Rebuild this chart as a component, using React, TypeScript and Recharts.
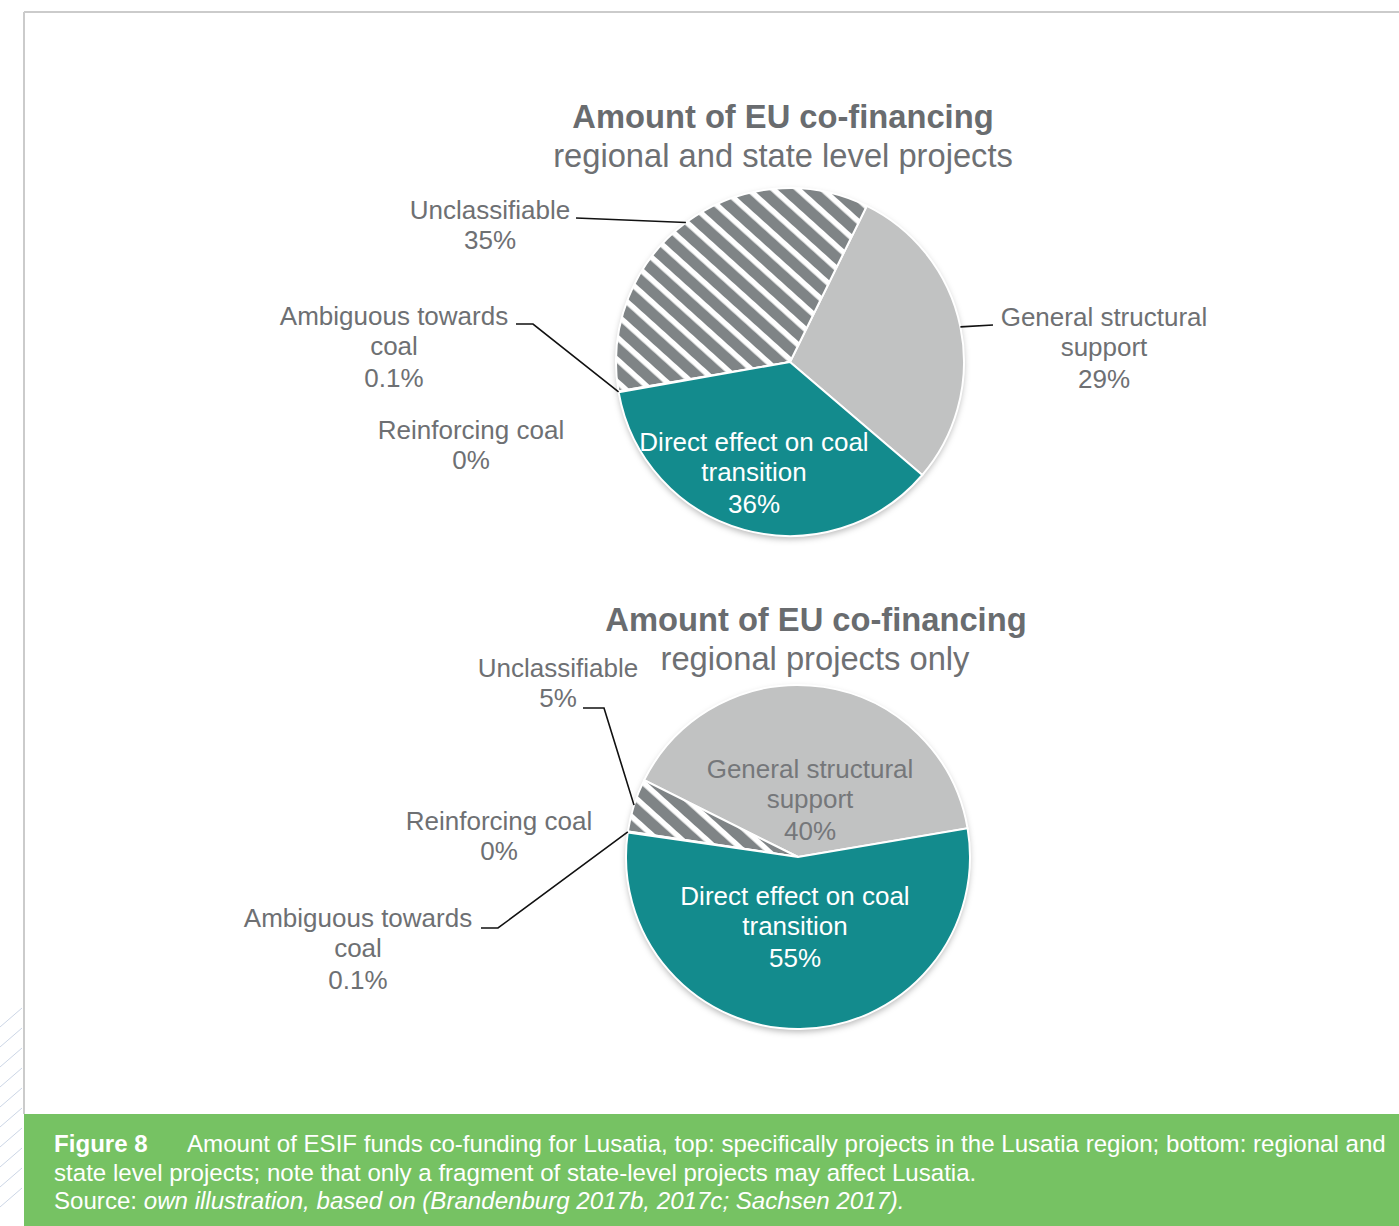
import { PieChart, Pie, Cell } from "recharts";

const categories = [
  "General structural support",
  "Unclassifiable",
  "Ambiguous towards coal",
  "Reinforcing coal",
  "Direct effect on coal transition",
];
const labelLines = [
  ["General structural", "support"],
  ["Unclassifiable"],
  ["Ambiguous towards", "coal"],
  ["Reinforcing coal"],
  ["Direct effect on coal", "transition"],
];

// top: regional and state level projects
const topValues = [29, 35, 0.1, 0, 36];
const topPercents = ["29%", "35%", "0.1%", "0%", "36%"];

// bottom: regional projects only
const bottomValues = [40, 5, 0.1, 0, 55];
const bottomPercents = ["40%", "5%", "0.1%", "0%", "55%"];

const FONT = "'Liberation Sans', Arial, Helvetica, sans-serif";
const GREY_TEXT = "#6e7073";
const TITLE = "#696c6f";
const TEAL = "#138b8d";
const LIGHT = "#c1c2c2";

const sliceFills = [LIGHT, "url(#hatch)", "#55595b", "#333333", TEAL];

type Spot = { dx: number; dy: number; color: string; line?: [number, number][] };

// label placement relative to the pie centre
const topSpots: Spot[] = [
  { dx: 314, dy: -45, color: GREY_TEXT, line: [[203, -37]] },
  { dx: -300, dy: -152, color: GREY_TEXT, line: [[-214, -144]] },
  { dx: -396, dy: -46, color: GREY_TEXT, line: [[-257, -38], [-274, -38]] },
  { dx: -319, dy: 68, color: GREY_TEXT },
  { dx: -36, dy: 80, color: "#ffffff" },
];
const bottomSpots: Spot[] = [
  { dx: 12, dy: -88, color: "#75777a" },
  { dx: -240, dy: -189, color: GREY_TEXT, line: [[-194, -149], [-215, -149]] },
  { dx: -440, dy: 61, color: GREY_TEXT, line: [[-300, 71], [-317, 71]] },
  { dx: -299, dy: -36, color: GREY_TEXT },
  { dx: -3, dy: 39, color: "#ffffff" },
];

const toData = (values: number[], pcts: string[]) =>
  categories.map((name, i) => ({ name, value: values[i], pct: pcts[i] }));

const topData = toData(topValues, topPercents);
const bottomData = toData(bottomValues, bottomPercents);

const makeLabel = (spots: Spot[], pcts: string[]) => (props: any) => {
  const { cx, cy, midAngle, outerRadius, index } = props;
  const spot = spots[index];
  if (!spot) return null;
  const rad = (-midAngle * Math.PI) / 180;
  const ex = cx + outerRadius * Math.cos(rad);
  const ey = cy + outerRadius * Math.sin(rad);
  const tx = cx + spot.dx;
  const ty = cy + spot.dy;
  const names = labelLines[index];
  const rows = names.map((t, k) => ({ t, y: ty + 30 * k }));
  rows.push({ t: pcts[index], y: ty + 30 * (names.length - 1) + (names.length > 1 ? 32 : 30) });
  const pts = spot.line ? [[ex, ey], ...spot.line.map(([a, b]) => [cx + a, cy + b])] : null;
  return (
    <g key={`lbl-${index}`}>
      {pts && (
        <polyline
          points={pts.map((p) => p.join(",")).join(" ")}
          fill="none"
          stroke="#111"
          strokeWidth={1.6}
        />
      )}
      {rows.map((r, k) => (
        <text
          key={k}
          x={tx}
          y={r.y}
          textAnchor="middle"
          dominantBaseline="central"
          fill={spot.color}
          fontSize={26}
          fontFamily={FONT}
        >
          {r.t}
        </text>
      ))}
    </g>
  );
};

const hatchY = [1008, 1028, 1048, 1068, 1088, 1108, 1128, 1148, 1168, 1188];
const noMargin = { top: 0, right: 0, bottom: 0, left: 0 };

export default function App() {
  return (
    <div style={{ position: "absolute", left: 0, top: 0, width: 1399, height: 1226, background: "#fff" }}>
      <svg width={1399} height={1226} style={{ position: "absolute", left: 0, top: 0 }}>
        <defs>
          <pattern id="hatch" width={16.5} height={16.5} patternUnits="userSpaceOnUse" patternTransform="rotate(-48)">
            <rect x={0} y={0} width={16.5} height={16.5} fill="#ffffff" />
            <rect x={0} y={0} width={11} height={16.5} fill="#7f8486" />
          </pattern>
          <filter id="pieShadow" x="-10%" y="-10%" width="120%" height="125%">
            <feDropShadow dx={0} dy={3} stdDeviation={3} floodColor="#000" floodOpacity={0.28} />
          </filter>
        </defs>
        {hatchY.map((y) => (
          <line key={y} x1={0} y1={y + 19} x2={22} y2={y} stroke="#ccd6e6" strokeWidth={1} />
        ))}
        <line x1={24} y1={12} x2={1399} y2={12} stroke="#cbcbcb" strokeWidth={2} />
        <line x1={24} y1={12} x2={24} y2={1114} stroke="#cbcbcb" strokeWidth={2} />

        <g fontFamily={FONT} textAnchor="middle" dominantBaseline="central" fontSize={32.7}>
          <text x={783} y={116} fill={TITLE} fontWeight="bold">Amount of EU co-financing</text>
          <text x={783} y={155} fill={GREY_TEXT}>regional and state level projects</text>
          <text x={816} y={619} fill={TITLE} fontWeight="bold">Amount of EU co-financing</text>
          <text x={815} y={658} fill={GREY_TEXT}>regional projects only</text>
        </g>

        <rect x={24} y={1114} width={1375} height={112} fill="#76c263" />
        <g fontFamily={FONT} fontSize={24.1} fill="#ffffff" dominantBaseline="central">
          <text x={54} y={1143} fontWeight="bold">Figure 8</text>
          <text x={187} y={1143}>
            Amount of ESIF funds co-funding for Lusatia, top: specifically projects in the Lusatia region; bottom: regional and
          </text>
          <text x={54} y={1172}>
            state level projects; note that only a fragment of state-level projects may affect Lusatia.
          </text>
          <text x={54} y={1200}>
            Source: <tspan fontStyle="italic">own illustration, based on (Brandenburg 2017b, 2017c; Sachsen 2017).</tspan>
          </text>
        </g>
      </svg>

      <div style={{ position: "absolute", left: 0, top: 0 }}>
        <PieChart width={1399} height={1110} margin={noMargin}>
          <Pie
            data={topData}
            dataKey="value"
            cx={790}
            cy={362}
            outerRadius={174}
            startAngle={-40.5}
            endAngle={319.5}
            stroke="none"
            isAnimationActive={false}
          >
            {topData.map((d) => (
              <Cell key={d.name} fill="#ffffff" filter="url(#pieShadow)" />
            ))}
          </Pie>
          <Pie
            data={topData}
            dataKey="value"
            cx={790}
            cy={362}
            outerRadius={174}
            startAngle={-40.5}
            endAngle={319.5}
            stroke="#ffffff"
            strokeWidth={2}
            label={makeLabel(topSpots, topPercents)}
            labelLine={false}
            isAnimationActive={false}
          >
            {topData.map((d, i) => (
              <Cell key={d.name} fill={sliceFills[i]} />
            ))}
          </Pie>
          <Pie
            data={bottomData}
            dataKey="value"
            cx={798}
            cy={857}
            outerRadius={172}
            startAngle={9.6}
            endAngle={369.6}
            stroke="none"
            isAnimationActive={false}
          >
            {bottomData.map((d) => (
              <Cell key={d.name} fill="#ffffff" filter="url(#pieShadow)" />
            ))}
          </Pie>
          <Pie
            data={bottomData}
            dataKey="value"
            cx={798}
            cy={857}
            outerRadius={172}
            startAngle={9.6}
            endAngle={369.6}
            stroke="#ffffff"
            strokeWidth={2}
            label={makeLabel(bottomSpots, bottomPercents)}
            labelLine={false}
            isAnimationActive={false}
          >
            {bottomData.map((d, i) => (
              <Cell key={d.name} fill={sliceFills[i]} />
            ))}
          </Pie>
        </PieChart>
      </div>
    </div>
  );
}
